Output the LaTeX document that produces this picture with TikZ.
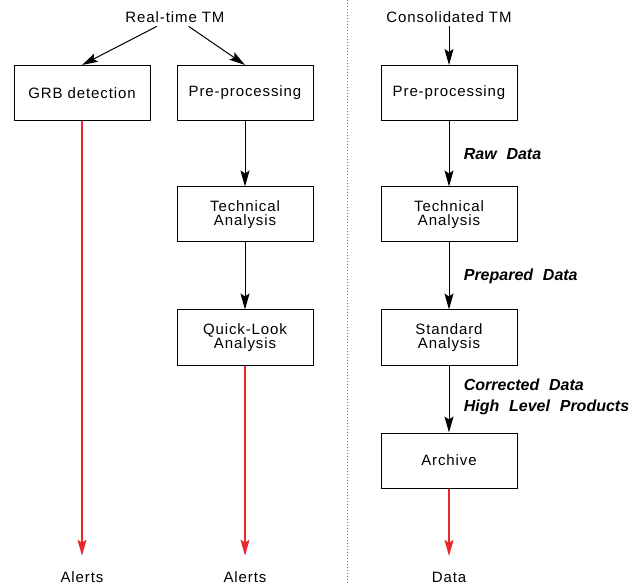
\documentclass[tikz,border=0pt]{standalone}
\usepackage{fontspec}
\setmainfont[LetterSpace=6]{Liberation Sans}
\newfontfamily\lblfont[WordSpace=2.2]{Liberation Sans}
\usetikzlibrary{arrows.meta}
\definecolor{alertred}{RGB}{232,40,44}

\begin{document}
\begin{tikzpicture}[x=1pt,y=-1pt,line width=1pt,
      >={Stealth[length=16pt,width=9pt,inset=3pt]},
      every node/.append style={font=\fontsize{15}{14}\selectfont},
      box/.style={draw=black,minimum width=136pt,minimum height=55pt,inner sep=0pt,align=center},
      lbl/.style={anchor=west,font=\fontsize{16}{21}\selectfont\lblfont\bfseries\itshape},
      alert/.style={->,color=alertred,line width=1.3pt,shorten >=12pt}]
    \useasboundingbox (0,0) rectangle (632,585);
    % real-time chain
    \node (rtm) at (175,17) {Real-time TM};
    \node (grb) [box] at (82,93) {GRB detection};
    \node (pre1) [box] at (245,93) {Pre-processing};
    \node (tech1) [box] at (245,214.5) {Technical\\Analysis};
    \node (ql) [box] at (245,337.5) {Quick-Look\\Analysis};
    \node (al1) at (82,577) {Alerts};
    \node (al2) at (245,577) {Alerts};
    \draw[->] (rtm) -- (grb.north);
    \draw[->] (rtm) -- (pre1.north);
    \draw[->] (pre1) -- (tech1);
    \draw[->] (tech1) -- (ql);
    \draw[alert] (grb.south) -- (al1.north);
    \draw[alert] (ql.south) -- (al2.north);
    % separator
    \draw[dotted,gray] (347,0) -- (347,585);
    % consolidated chain
    \node (ctm) at (449,17) {Consolidated TM};
    \node (pre2) [box] at (449,93) {Pre-processing};
    \node (tech2) [box] at (449,214.5) {Technical\\Analysis};
    \node (std) [box] at (449,337.5) {Standard\\Analysis};
    \node (arch) [box] at (449,460.5) {Archive};
    \node (data) at (449,577) {Data};
    \draw[->] (ctm) -- (pre2);
    \draw[->] (pre2) -- node [lbl,pos=0.5,xshift=11pt] (raw) {Raw Data} (tech2);
    \draw[->] (tech2) -- node [lbl,pos=0.5,xshift=11pt] (prep) {Prepared Data} (std);
    \draw[->] (std) -- node [lbl,pos=0.47,xshift=11pt,align=left] (corr) {Corrected Data\\High Level Products} (arch);
    \draw[alert] (arch.south) -- (data.north);
\end{tikzpicture}
\end{document}
